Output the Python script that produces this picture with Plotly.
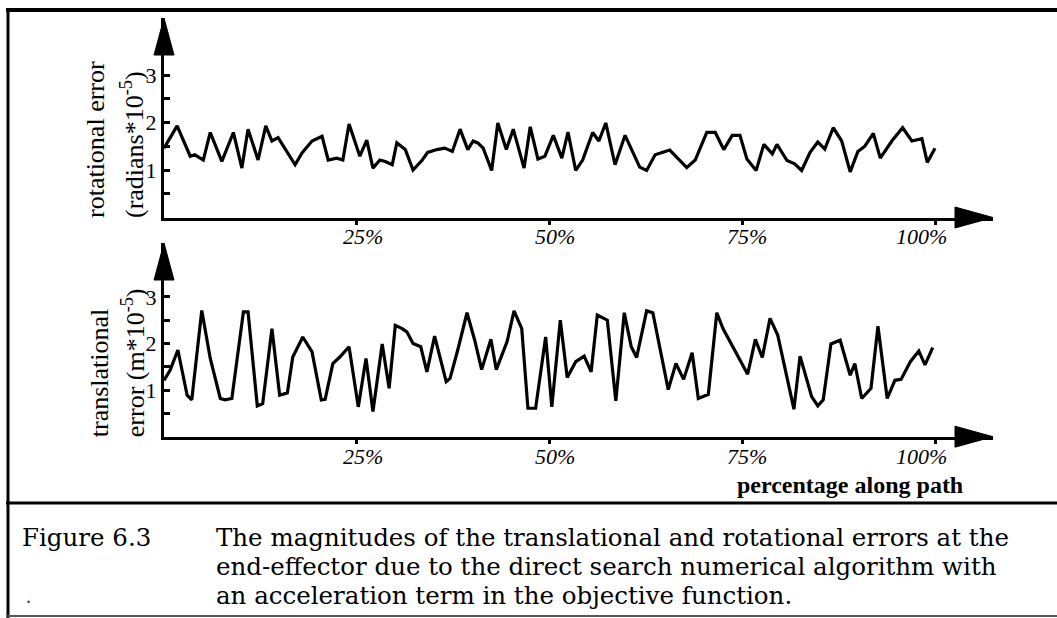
import plotly.graph_objects as go

# ---- data: percentage along path vs. error magnitude ----
rot_path = [0.0, 1.7, 3.4, 4.0, 5.1, 6.0, 7.5, 9.0, 10.1, 10.9,
            12.2, 13.2, 14.0, 14.8, 17.0, 17.9, 19.2, 20.5, 21.3, 22.4,
            23.2, 24.0, 25.4, 26.3, 27.1, 28.0, 28.7, 29.6, 30.2, 31.3,
            32.3, 33.5, 34.2, 35.4, 36.4, 37.4, 38.4, 39.4, 40.1, 40.7,
            41.4, 42.5, 43.3, 44.4, 45.3, 46.7, 47.5, 48.5, 49.4, 50.5,
            51.6, 52.4, 53.4, 54.3, 55.6, 56.4, 57.3, 58.5, 59.8, 61.7,
            62.6, 63.7, 65.6, 67.8, 68.9, 70.4, 71.5, 72.6, 73.7, 74.7,
            75.6, 76.8, 77.8, 78.9, 79.5, 80.8, 81.8, 82.7, 83.8, 84.8,
            85.7, 86.8, 87.9, 89.0, 90.0, 90.9, 92.0, 92.9, 94.4, 95.8,
            97.0, 98.3, 99.0, 100.0]
rot_error = [1.46, 1.93, 1.29, 1.32, 1.21, 1.79, 1.18, 1.79, 1.04, 1.86,
             1.21, 1.93, 1.61, 1.68, 1.11, 1.36, 1.61, 1.71, 1.21, 1.25,
             1.21, 1.97, 1.29, 1.63, 1.04, 1.21, 1.18, 1.11, 1.57, 1.43,
             1.00, 1.21, 1.37, 1.43, 1.46, 1.39, 1.86, 1.43, 1.61, 1.57,
             1.46, 0.99, 1.99, 1.43, 1.86, 1.04, 1.91, 1.23, 1.29, 1.73,
             1.25, 1.80, 0.99, 1.21, 1.79, 1.61, 1.99, 1.11, 1.73, 1.06,
             0.99, 1.32, 1.42, 1.05, 1.21, 1.79, 1.79, 1.43, 1.73, 1.73,
             1.23, 0.99, 1.54, 1.34, 1.54, 1.20, 1.13, 0.99, 1.37, 1.59,
             1.44, 1.89, 1.61, 0.96, 1.39, 1.50, 1.77, 1.25, 1.61, 1.89,
             1.61, 1.66, 1.16, 1.46]

trans_path = [0.0, 0.8, 1.8, 3.0, 3.6, 4.9, 6.0, 7.3, 7.9, 8.8,
              10.3, 10.9, 12.1, 12.8, 14.0, 15.0, 16.0, 16.7, 18.0, 19.2,
              20.4, 20.9, 21.9, 22.8, 24.0, 25.2, 26.2, 27.1, 28.3, 29.2,
              30.0, 30.9, 31.5, 32.3, 33.3, 34.1, 35.1, 36.6, 37.1, 38.1,
              39.3, 40.3, 41.2, 42.4, 43.1, 44.5, 45.4, 46.4, 47.2, 48.2,
              49.5, 50.3, 51.4, 52.3, 53.4, 54.5, 55.4, 56.2, 57.5, 58.6,
              59.7, 60.6, 61.3, 62.6, 63.4, 65.4, 66.4, 67.4, 68.5, 69.3,
              70.6, 71.7, 72.5, 75.7, 76.7, 77.6, 78.6, 79.6, 81.7, 82.5,
              84.0, 84.8, 85.5, 86.5, 87.7, 89.0, 89.6, 90.5, 91.7, 92.6,
              93.8, 94.8, 95.6, 96.8, 97.9, 98.7, 99.7]
trans_error = [1.21, 1.43, 1.86, 0.89, 0.79, 2.71, 1.68, 0.82, 0.79, 0.82,
               2.68, 2.68, 0.66, 0.71, 2.32, 0.89, 0.94, 1.71, 2.14, 1.82,
               0.79, 0.80, 1.57, 1.71, 1.93, 0.64, 1.68, 0.54, 1.99, 1.04,
               2.39, 2.32, 2.25, 2.00, 1.93, 1.39, 2.16, 1.18, 1.25, 1.86,
               2.66, 2.07, 1.44, 2.09, 1.44, 2.04, 2.70, 2.32, 0.61, 0.61,
               2.14, 0.64, 2.50, 1.27, 1.61, 1.73, 1.39, 2.61, 2.50, 0.77,
               2.66, 1.93, 1.70, 2.70, 2.66, 1.01, 1.57, 1.23, 1.80, 0.82,
               0.91, 2.66, 2.32, 1.34, 2.09, 1.70, 2.54, 2.18, 0.59, 1.73,
               0.86, 0.66, 0.79, 1.99, 2.07, 1.32, 1.57, 0.82, 1.04, 2.37,
               0.82, 1.21, 1.23, 1.61, 1.84, 1.54, 1.91]

x_ticks = [25, 50, 75, 100]
x_tick_labels = ["25%", "50%", "75%", "100%"]
y_ticks = [1, 2, 3]
y_tick_labels = ["1", "2", "3"]
y_minor_ticks = [0.5, 1.5, 2.5]

# ---- page geometry (pixels) ----
W, H = 1057, 618
SERIF = "Liberation Serif, Times New Roman, serif"
CAPTION_FONT = "DejaVu Serif, Liberation Serif, serif"


def px(x):
    return x / W


def py(y):
    return 1 - y / H


X_LEFT, X_TIP = 164, 993          # y-axis position and x-arrow tip
X_PER_PCT = 7.71                  # pixels per percent along path
TOP_ZERO, TOP_TIP = 217.5, 18     # top panel: y=0 line, arrow tip
BOT_ZERO, BOT_TIP = 436.7, 243    # bottom panel
TOP_UNIT, BOT_UNIT = 47.5, 46.6   # pixels per unit of error

x_max = (X_TIP - X_LEFT) / X_PER_PCT

fig = go.Figure()
fig.add_trace(go.Scatter(x=rot_path, y=rot_error, mode="lines",
                         line=dict(color="black", width=3.2),
                         xaxis="x", yaxis="y", showlegend=False,
                         hoverinfo="skip"))
fig.add_trace(go.Scatter(x=trans_path, y=trans_error, mode="lines",
                         line=dict(color="black", width=3.2),
                         xaxis="x2", yaxis="y2", showlegend=False,
                         hoverinfo="skip"))

xaxis_style = dict(range=[0, x_max], domain=[px(X_LEFT), px(X_TIP)],
                   showline=True, linecolor="black", linewidth=3,
                   tickvals=x_ticks, showticklabels=False,
                   ticks="outside", ticklen=4, tickwidth=2.5, tickcolor="black",
                   showgrid=False, zeroline=False, fixedrange=True)
yaxis_style = dict(showline=True, linecolor="black", linewidth=3,
                   tickvals=y_ticks, ticktext=y_tick_labels,
                   ticks="inside", ticklen=6, tickwidth=2.5, tickcolor="black",
                   tickfont=dict(family=SERIF, size=22, color="black"),
                   minor=dict(tickvals=y_minor_ticks, ticks="inside",
                              ticklen=6, tickwidth=2.5, tickcolor="black",
                              showgrid=False),
                   showgrid=False, zeroline=False, fixedrange=True)

fig.update_layout(
    width=W, height=H,
    margin=dict(l=0, r=0, t=0, b=0),
    paper_bgcolor="white", plot_bgcolor="white",
    xaxis=dict(anchor="y", **xaxis_style),
    xaxis2=dict(anchor="y2", **xaxis_style),
    yaxis=dict(anchor="x", range=[0, (TOP_ZERO - TOP_TIP) / TOP_UNIT],
               domain=[py(TOP_ZERO), py(TOP_TIP)], **yaxis_style),
    yaxis2=dict(anchor="x2", range=[0, (BOT_ZERO - BOT_TIP) / BOT_UNIT],
                domain=[py(BOT_ZERO), py(BOT_TIP)], **yaxis_style),
)

shapes = []
annotations = []

# arrowheads on each axis
for zero, tip in [(TOP_ZERO, TOP_TIP), (BOT_ZERO, BOT_TIP)]:
    shapes.append(dict(
        type="path", xref="paper", yref="paper", fillcolor="black",
        line=dict(color="black", width=1),
        path=(f"M {px(X_TIP)},{py(zero)} L {px(X_TIP - 38)},{py(zero - 10.5)} "
              f"L {px(X_TIP - 38)},{py(zero + 10.5)} Z")))
    shapes.append(dict(
        type="path", xref="paper", yref="paper", fillcolor="black",
        line=dict(color="black", width=1),
        path=(f"M {px(X_LEFT)},{py(tip)} L {px(X_LEFT - 10)},{py(tip + 37)} "
              f"L {px(X_LEFT + 10)},{py(tip + 37)} Z")))

# x tick labels (percent along path)
label_shift = {25: 6, 50: 5, 75: 5, 100: -14}
for xa, ya in [("x", "y domain"), ("x2", "y2 domain")]:
    for v, t in zip(x_ticks, x_tick_labels):
        annotations.append(dict(
            x=v, y=0, xref=xa, yref=ya, text=t, showarrow=False,
            xanchor="center", yanchor="top", xshift=label_shift[v], yshift=-5,
            font=dict(family=SERIF, size=22, color="black", style="italic")))

# rotated y-axis titles
ylab = dict(family=SERIF, size=26, color="black")
for xc, text, ybot in [
        (96, "rotational error", TOP_ZERO + 3),
        (133, "(radians*10<sup>-5</sup>)", TOP_ZERO + 3),
        (99, "translational", BOT_ZERO + 3),
        (133, "error (m*10<sup>-5</sup>)", BOT_ZERO + 3)]:
    annotations.append(dict(
        x=px(xc), y=py(ybot), xref="paper", yref="paper", text=text,
        textangle=-90, showarrow=False, xanchor="center", yanchor="bottom",
        font=ylab))

annotations.append(dict(
    x=px(850), y=py(485), xref="paper", yref="paper",
    text="<b>percentage along path</b>", showarrow=False,
    xanchor="center", yanchor="middle",
    font=dict(family=SERIF, size=24, color="black")))

# figure caption
cap = dict(family=CAPTION_FONT, size=24.5, color="black")
annotations.append(dict(x=px(20), y=py(537), xref="paper", yref="paper",
                        text="Figure 6.3", showarrow=False,
                        xanchor="left", yanchor="middle", font=cap))
caption_lines = [
    "The magnitudes of the translational and rotational errors at the",
    "end-effector due to the direct search numerical algorithm with",
    "an acceleration term in the objective function.",
]
for i, line in enumerate(caption_lines):
    annotations.append(dict(x=px(214), y=py(537 + 29 * i), xref="paper",
                            yref="paper", text=line, showarrow=False,
                            xanchor="left", yanchor="middle", font=cap))
annotations.append(dict(x=px(24), y=py(596), xref="paper", yref="paper",
                        text=".", showarrow=False, xanchor="left",
                        yanchor="middle", font=dict(family=SERIF, size=20)))

# frame rules
shapes += [
    dict(type="line", xref="paper", yref="paper", x0=px(6), x1=1,
         y0=py(10), y1=py(10), line=dict(color="black", width=4)),
    dict(type="line", xref="paper", yref="paper", x0=px(8), x1=px(8),
         y0=py(8), y1=py(618), line=dict(color="black", width=3)),
    dict(type="line", xref="paper", yref="paper", x0=px(6), x1=1,
         y0=py(503), y1=py(503), line=dict(color="black", width=3)),
    dict(type="line", xref="paper", yref="paper", x0=px(6), x1=1,
         y0=py(616), y1=py(616), line=dict(color="#555555", width=2)),
]

fig.update_layout(shapes=shapes, annotations=annotations)
fig.write_html("out.html", config={"displayModeBar": False})
